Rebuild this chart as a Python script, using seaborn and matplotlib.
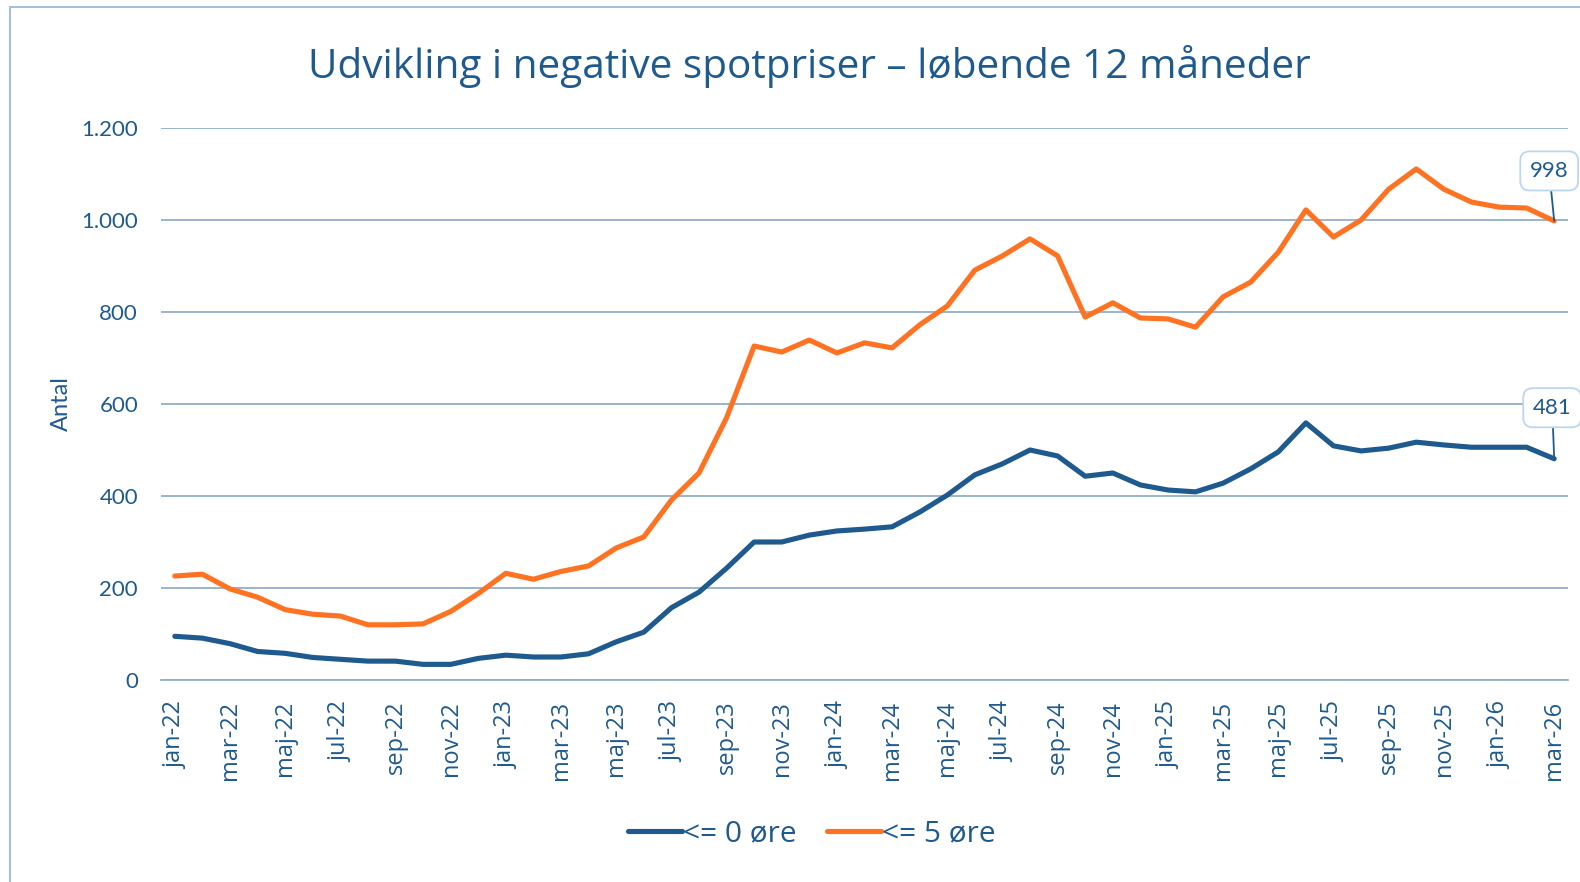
import matplotlib
matplotlib.use("Agg")
import matplotlib.pyplot as plt
from matplotlib.patches import Rectangle
from matplotlib.ticker import FuncFormatter
import numpy as np
import pandas as pd
import seaborn as sns

# data
months = [
    "jan-22", "feb-22", "mar-22", "apr-22", "maj-22", "jun-22", "jul-22", "aug-22", "sep-22", "okt-22", "nov-22", "dec-22",
    "jan-23", "feb-23", "mar-23", "apr-23", "maj-23", "jun-23", "jul-23", "aug-23", "sep-23", "okt-23", "nov-23", "dec-23",
    "jan-24", "feb-24", "mar-24", "apr-24", "maj-24", "jun-24", "jul-24", "aug-24", "sep-24", "okt-24", "nov-24", "dec-24",
    "jan-25", "feb-25", "mar-25", "apr-25", "maj-25", "jun-25", "jul-25", "aug-25", "sep-25", "okt-25", "nov-25", "dec-25",
    "jan-26", "feb-26", "mar-26",
]
below_0 = [95, 91, 79, 62, 58, 49, 45, 41, 41, 34, 34, 47, 54, 50, 50, 57, 83, 104, 157, 191,
           243, 300, 300, 315, 324, 328, 333, 365, 402, 446, 470, 500, 487, 443, 450, 424, 413, 409, 428, 459,
           496, 559, 509, 498, 504, 517, 511, 506, 506, 506, 481]
below_5 = [226, 230, 198, 180, 153, 143, 139, 120, 120, 122, 149, 188, 232, 219, 236, 248, 287, 311, 391, 450,
           570, 726, 713, 739, 711, 733, 722, 772, 813, 891, 922, 959, 922, 789, 820, 787, 785, 767, 833, 865,
           930, 1022, 963, 1000, 1067, 1111, 1067, 1039, 1028, 1026, 998]
series_names = ["<= 0 øre", "<= 5 øre"]
y_ticks = [0, 200, 400, 600, 800, 1000, 1200]

DARK_BLUE = "#1F5A8F"
ORANGE = "#FF7222"
GRID = "#93AFCC"
FRAME = "#A3BFD9"
WIDE = ["Open Sans", "DejaVu Sans"]

df = pd.DataFrame({
    "month": months * 2,
    "value": below_0 + below_5,
    "series": [series_names[0]] * len(months) + [series_names[1]] * len(months),
})

sns.set_style("white")
plt.rcParams["font.family"] = ["Lato", "DejaVu Sans"]

fig = plt.figure(figsize=(15.8, 8.82), dpi=100)
ax = fig.add_axes([161 / 1580, 1 - 680 / 882, 1407 / 1580, 552 / 882])

sns.lineplot(data=df, x="month", y="value", hue="series", sort=False,
             palette=[DARK_BLUE, ORANGE], linewidth=3.7, ax=ax, legend=True)

ax.set_xlim(-0.5, len(months) - 0.5)
ax.set_ylim(0, 1200)
ax.set_yticks(y_ticks)
ax.yaxis.set_major_formatter(FuncFormatter(lambda v, _: f"{int(v):,}".replace(",", ".")))
ax.grid(axis="y", color=GRID, lw=1.3)
ax.set_axisbelow(True)
for side in ["top", "right", "left"]:
    ax.spines[side].set_visible(False)
ax.spines["bottom"].set_color(GRID)
ax.spines["bottom"].set_linewidth(1.3)

ax.set_xticks(range(0, len(months), 2))
ax.set_xticklabels(months[::2], rotation=90, family=WIDE)
ax.set_xticks(np.arange(-0.5, len(months), 2), minor=True)
ax.tick_params(axis="x", which="major", length=0, pad=15, labelsize=17, labelcolor=DARK_BLUE)
ax.tick_params(axis="x", which="minor", length=9, width=1.3, color=GRID)
ax.tick_params(axis="y", length=0, pad=16.5, labelsize=16, labelcolor=DARK_BLUE)

ax.set_xlabel("")
ax.set_ylabel("Antal", fontsize=17, color=DARK_BLUE)
ax.yaxis.set_label_coords(-0.063, 0.5)

# end-of-line callouts
for vals, offset in ((below_5, (-5, 50)), (below_0, (-2, 51))):
    last = len(vals) - 1
    ax.annotate(str(vals[last]), xy=(last, vals[last]), xytext=offset, textcoords="offset pixels",
                ha="center", va="center", fontsize=16, color=DARK_BLUE, annotation_clip=False,
                bbox=dict(boxstyle="round,pad=0.43", fc="white", ec="#BBD6EE", lw=1.3),
                arrowprops=dict(arrowstyle="-", color=DARK_BLUE, lw=1.3, shrinkA=0, shrinkB=0))

handles, labels = ax.get_legend_handles_labels()
ax.get_legend().remove()
fig.legend(handles, labels, loc="center", bbox_to_anchor=(812 / 1580, 1 - 834 / 882), ncol=2,
           frameon=False, prop={"family": WIDE, "size": 21.5}, labelcolor=DARK_BLUE,
           handlelength=1.8, handletextpad=0.05, columnspacing=1.0)

fig.text(809 / 1580, 1 - 66 / 882, "Udvikling i negative spotpriser – løbende 12 måneder",
         ha="center", va="center", fontsize=29.2, color=DARK_BLUE, family=WIDE)

fig.patches.append(Rectangle((10 / 1580, -0.1), 1.2, 1.1 - 7 / 882, transform=fig.transFigure,
                             fill=False, ec=FRAME, lw=1.5))

fig.savefig("out.png", dpi=100)
